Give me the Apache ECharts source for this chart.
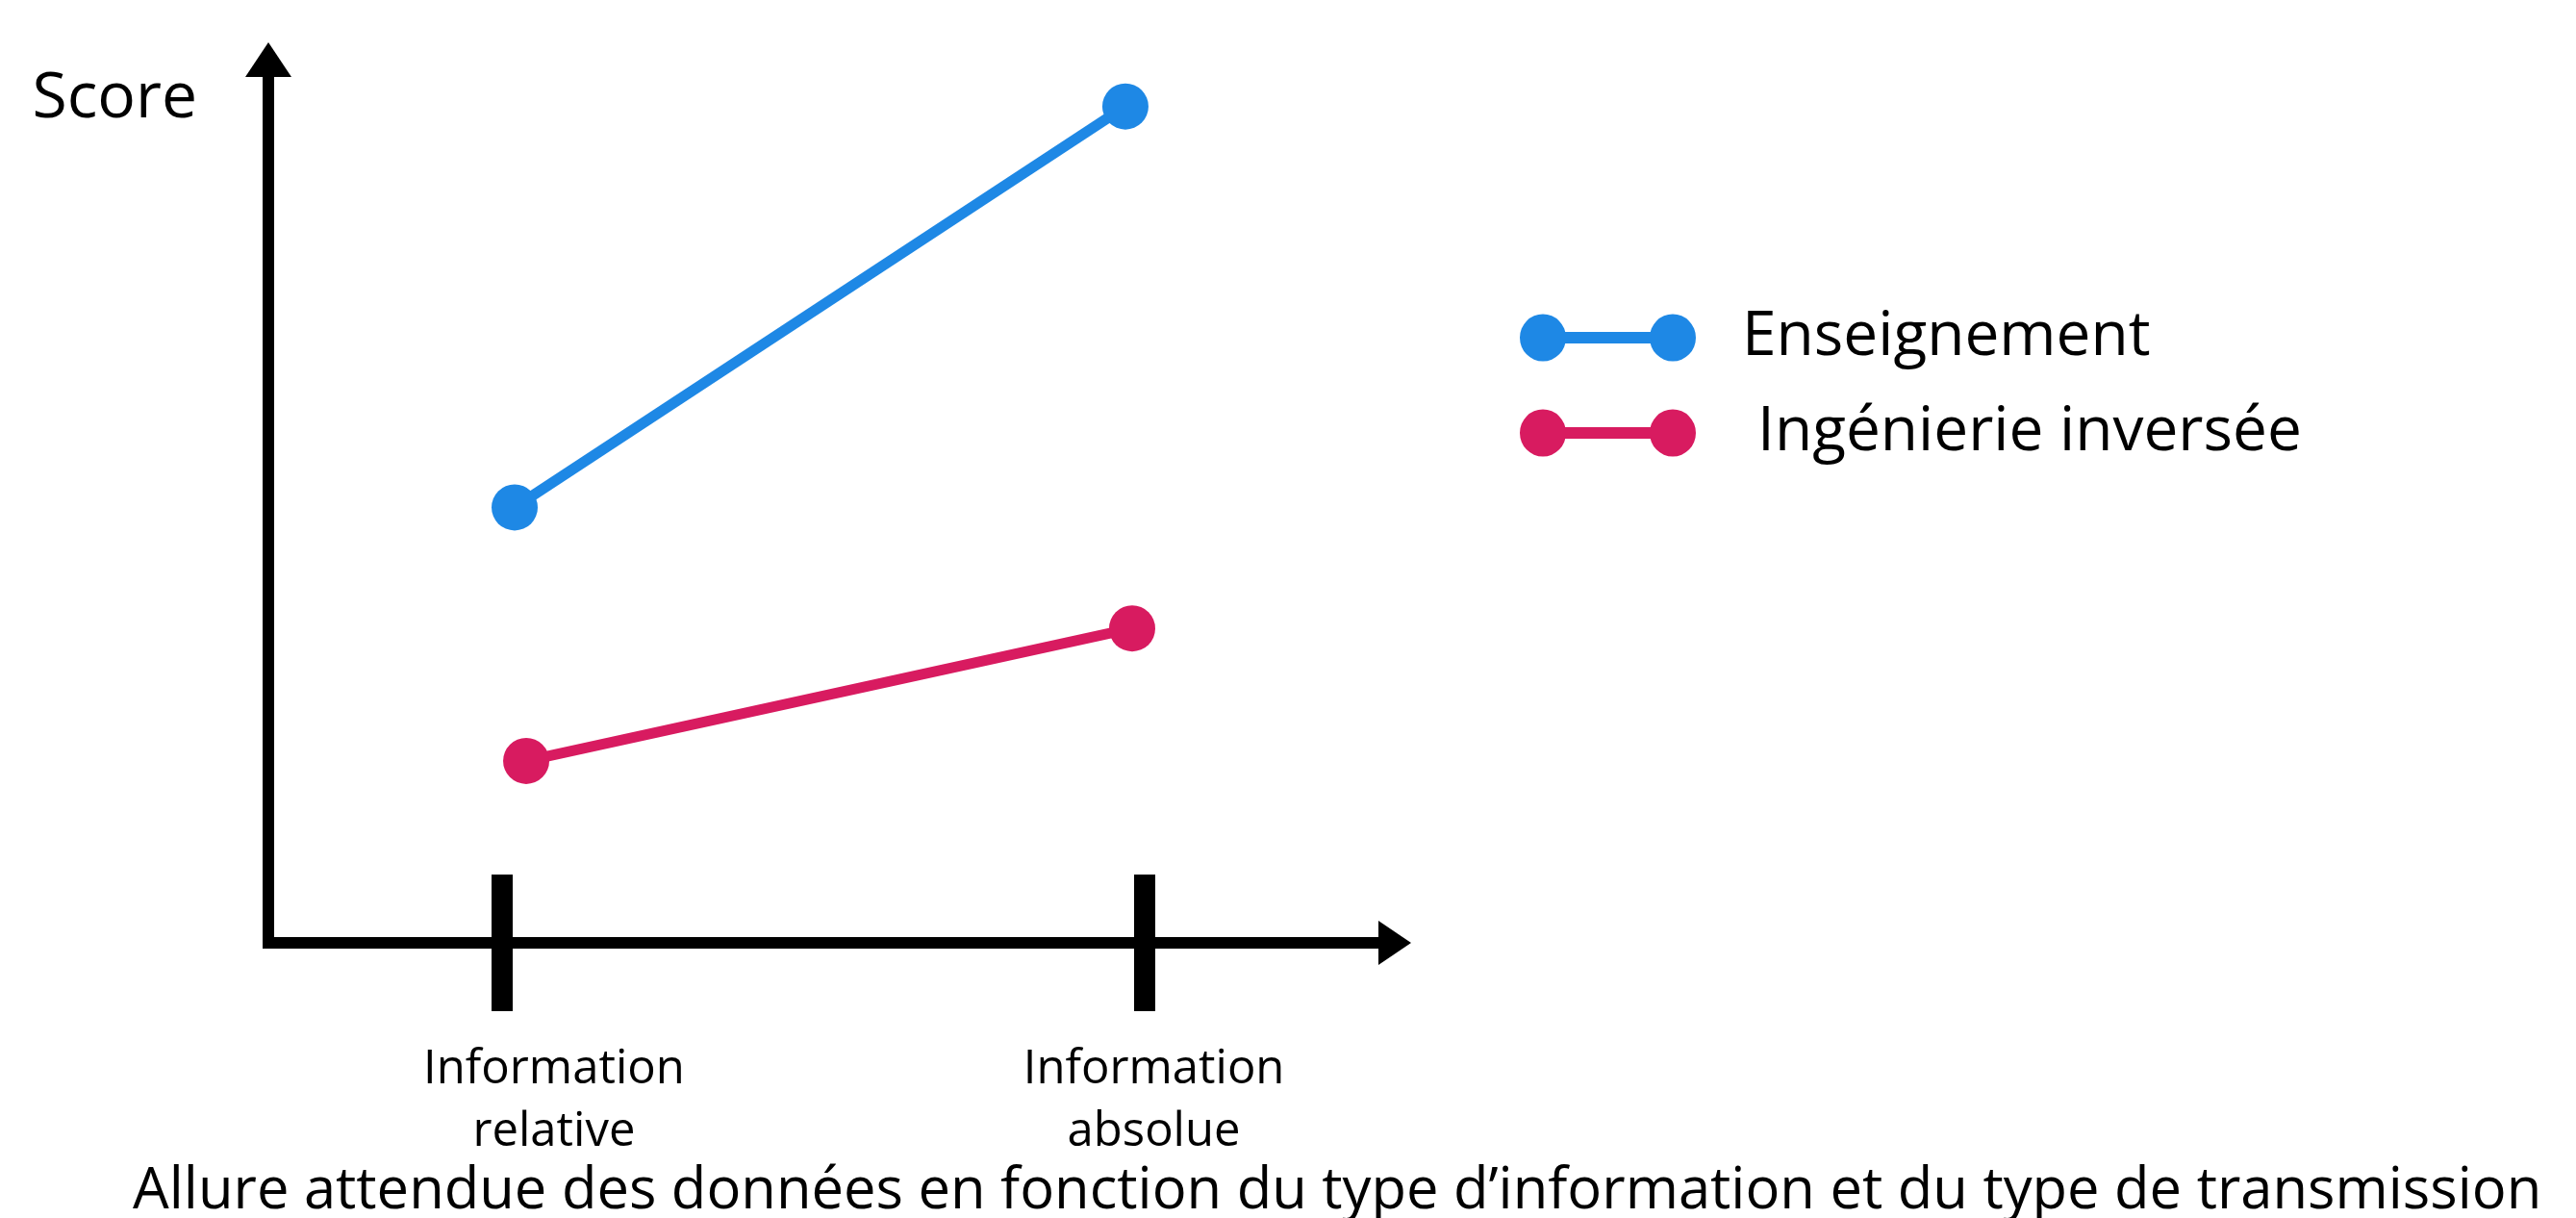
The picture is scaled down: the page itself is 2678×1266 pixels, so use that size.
<!DOCTYPE html>
<html>
<head>
<meta charset="utf-8">
<script src="https://cdn.jsdelivr.net/npm/echarts@6/dist/echarts.min.js"></script>
<style>
html, body { margin: 0; padding: 0; background: #fff; }
#chart { width: 2678px; height: 1266px; }
</style>
</head>
<body>
<div id="chart"></div>
<script>
// ---- data ----
const categories = ['Information\nrelative', 'Information\nabsolue'];
const categoryTickValues = [2, 7.5];
const categoryLabelValues = [2.445, 7.58];
const seriesNames = ['Enseignement', 'Ingénierie inversée'];
const enseignementData = [[2.108, 4.93], [7.336, 9.47]];
const ingenierieData = [[2.207, 2.06], [7.394, 3.56]];
const yAxisTitle = 'Score';
const captionText = 'Allure attendue des données en fonction du type d’information et du type de transmission';
const colors = ['#1E88E5', '#D81B60'];

const FONT = 'Open Sans';
const legendIcon = 'path://M0,24.5 A24,24.5 0 1,1 48,24.5 A24,24.5 0 1,1 0,24.5 Z M135,24.5 A24,24.5 0 1,1 183,24.5 A24,24.5 0 1,1 135,24.5 Z M40,18.5 L143,18.5 L143,30.5 L40,30.5 Z';

function labelFor(value) {
  let best = 0, bestD = Infinity;
  for (let i = 0; i < categoryLabelValues.length; i++) {
    const d = Math.abs(categoryLabelValues[i] - value);
    if (d < bestD) { bestD = d; best = i; }
  }
  return categories[best];
}

const chart = echarts.init(document.getElementById('chart'), null, { renderer: 'canvas' });

const option = {
  backgroundColor: '#ffffff',
  animation: false,
  color: colors,
  title: {
    text: captionText,
    left: 138,
    top: 1209,
    padding: 0,
    textStyle: { fontFamily: FONT, fontSize: 59.7, fontWeight: 'normal', color: '#000', lineHeight: 60 }
  },
  legend: {
    orient: 'vertical',
    left: 1575,
    top: 314,
    itemWidth: 183,
    itemHeight: 49,
    itemGap: 35,
    icon: legendIcon,
    selectedMode: false,
    textStyle: { fontFamily: FONT, fontSize: 64, color: '#000', lineHeight: 49, padding: [0, 0, 4, 43] },
    data: [
      { name: seriesNames[0] },
      { name: seriesNames[1], textStyle: { padding: [0, 0, 4, 59] } }
    ]
  },
  grid: { left: 279, right: 1228, top: 62, bottom: 286, containLabel: false },
  xAxis: [
    {
      type: 'value',
      position: 'bottom',
      min: 0,
      max: 9.642,
      splitLine: { show: false },
      axisLine: {
        show: true,
        onZero: false,
        symbol: ['none', 'triangle'],
        symbolSize: [46, 34],
        lineStyle: { color: '#000', width: 12, cap: 'square' }
      },
      axisTick: {
        show: true,
        customValues: categoryTickValues,
        length: 71,
        inside: false,
        lineStyle: { color: '#000', width: 22 }
      },
      axisLabel: {
        show: true,
        customValues: categoryLabelValues,
        showMinLabel: true,
        showMaxLabel: true,
        hideOverlap: false,
        margin: 100,
        fontFamily: FONT,
        fontSize: 49,
        lineHeight: 65,
        color: '#000',
        align: 'center',
        verticalAlign: 'top',
        formatter: function (value) { return labelFor(value); }
      }
    },
    {
      type: 'value',
      position: 'bottom',
      min: 0,
      max: 9.642,
      splitLine: { show: false },
      axisLine: { show: false },
      axisTick: {
        show: true,
        customValues: categoryTickValues,
        length: 71,
        inside: true,
        lineStyle: { color: '#000', width: 22 }
      },
      axisLabel: { show: false }
    }
  ],
  yAxis: {
    type: 'value',
    min: 0,
    max: 10,
    name: yAxisTitle,
    nameLocation: 'end',
    nameGap: 0,
    nameTextStyle: {
      fontFamily: FONT, fontSize: 66, color: '#000', align: 'right', verticalAlign: 'top',
      lineHeight: 66, padding: [8, 74, 0, 0]
    },
    splitLine: { show: false },
    axisTick: { show: false },
    axisLabel: { show: false },
    axisLine: {
      show: true,
      onZero: false,
      symbol: ['none', 'triangle'],
      symbolSize: [48, 36],
      lineStyle: { color: '#000', width: 12, cap: 'square' }
    }
  },
  series: [
    {
      name: seriesNames[0],
      type: 'line',
      xAxisIndex: 0,
      data: enseignementData,
      symbol: 'circle',
      symbolSize: 48,
      lineStyle: { width: 11, color: colors[0] },
      itemStyle: { color: colors[0] },
      z: 3
    },
    {
      name: seriesNames[1],
      type: 'line',
      xAxisIndex: 0,
      data: ingenierieData,
      symbol: 'circle',
      symbolSize: 48,
      lineStyle: { width: 11, color: colors[1] },
      itemStyle: { color: colors[1] },
      z: 3
    }
  ]
};

chart.setOption(option);
</script>
</body>
</html>
